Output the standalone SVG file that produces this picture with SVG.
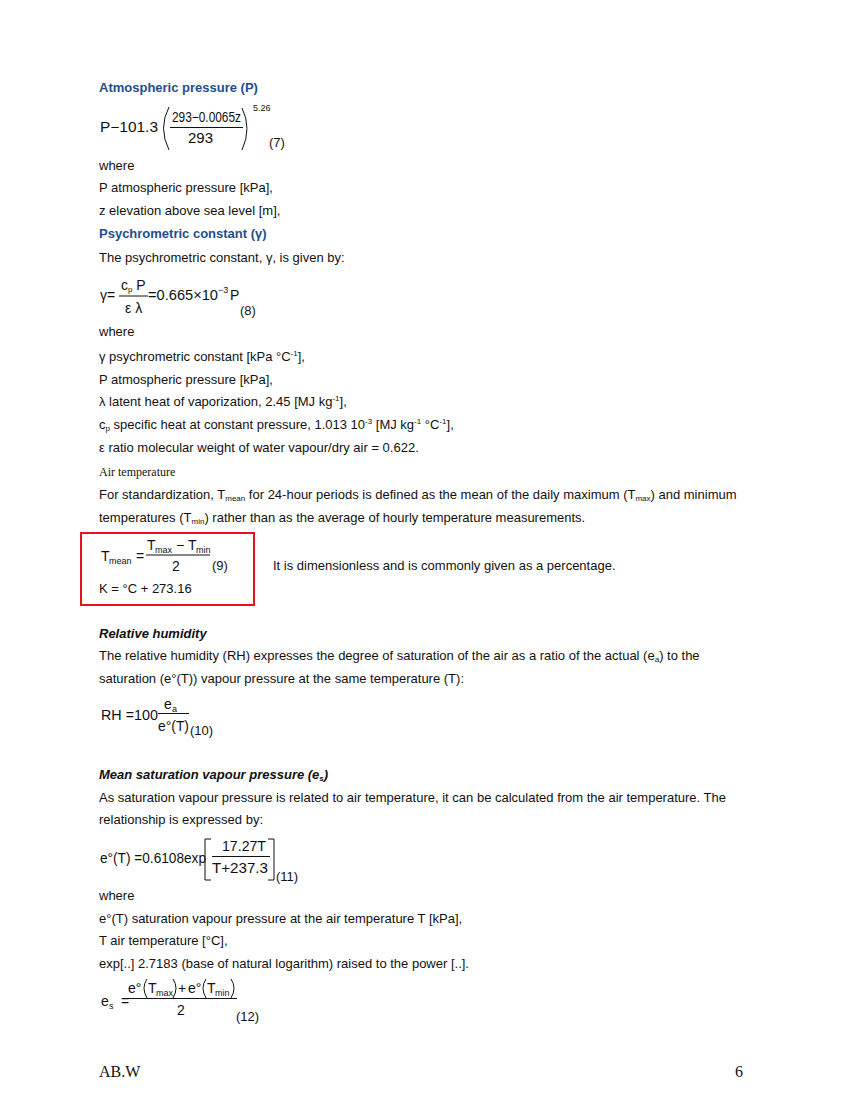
<svg xmlns="http://www.w3.org/2000/svg" width="850" height="1100" viewBox="0 0 850 1100">
<style>
.t{font-family:"Liberation Sans",Arial,sans-serif;font-size:13px;fill:#111}
.h{font-family:"Liberation Sans",Arial,sans-serif;font-size:13px;font-weight:bold;fill:#1f4e8c}
.hi{font-family:"Liberation Sans",Arial,sans-serif;font-size:13px;font-weight:bold;font-style:italic;fill:#111}
.s{font-size:8px}
.f{font-family:"Liberation Sans",Arial,sans-serif;font-size:14px;fill:#111}
.fs{font-family:"Liberation Sans",Arial,sans-serif;font-size:9px;fill:#111}
.serif{font-family:"Liberation Serif","Times New Roman",serif;fill:#111}
.ln{stroke:#111;stroke-width:1;fill:none}
</style>
<rect width="850" height="1100" fill="#fff"/>

<g id="atmospheric-pressure">
<text class="h" x="99" y="92">Atmospheric pressure (P)</text>
<text class="f" x="100" y="132" textLength="58" lengthAdjust="spacingAndGlyphs">P−101.3</text>
<path class="ln" d="M169,107 Q158,128 169,150"/>
<text class="f" x="172" y="122" textLength="69" lengthAdjust="spacingAndGlyphs">293−0.0065z</text>
<line class="ln" x1="170" y1="127.5" x2="243" y2="127.5"/>
<text class="f" x="188" y="143" textLength="25" lengthAdjust="spacingAndGlyphs">293</text>
<path class="ln" d="M242,108 Q252,128 242,150"/>
<text class="fs" x="253" y="111">5.26</text>
<text class="t" x="269" y="147">(7)</text>
<text class="t" x="99" y="170">where</text>
<text class="t" x="99" y="192">P atmospheric pressure [kPa],</text>
<text class="t" x="99" y="215">z elevation above sea level [m],</text>
</g>

<g id="psychrometric-constant">
<text class="h" x="99" y="238">Psychrometric constant (γ)</text>
<text class="t" x="99" y="262">The psychrometric constant, γ, is given by:</text>
<text class="f" x="100" y="300">γ=</text>
<text class="f" x="121" y="290">c<tspan class="s" dy="2">p</tspan><tspan dy="-2"> P</tspan></text>
<line class="ln" x1="119" y1="296" x2="148" y2="296"/>
<text class="f" x="125" y="313">ε λ</text>
<text class="f" x="148" y="300" textLength="70" lengthAdjust="spacingAndGlyphs">=0.665×10</text>
<text class="fs" x="218" y="293">−3</text>
<text class="f" x="230" y="300">P</text>
<text class="t" x="240" y="315">(8)</text>
<text class="t" x="99" y="336">where</text>
<text class="t" x="99" y="361">γ psychrometric constant [kPa °C<tspan class="s" dy="-5">-1</tspan><tspan dy="5">],</tspan></text>
<text class="t" x="99" y="384">P atmospheric pressure [kPa],</text>
<text class="t" x="99" y="406">λ latent heat of vaporization, 2.45 [MJ kg<tspan class="s" dy="-5">-1</tspan><tspan dy="5">],</tspan></text>
<text class="t" x="99" y="429">c<tspan class="s" dy="2">p</tspan><tspan dy="-2"> specific heat at constant pressure, 1.013 10</tspan><tspan class="s" dy="-5">-3</tspan><tspan dy="5"> [MJ kg</tspan><tspan class="s" dy="-5">-1</tspan><tspan dy="5"> °C</tspan><tspan class="s" dy="-5">-1</tspan><tspan dy="5">],</tspan></text>
<text class="t" x="99" y="452">ε ratio molecular weight of water vapour/dry air = 0.622.</text>
</g>

<g id="air-temperature">
<text class="serif" x="99" y="476" font-size="12">Air temperature</text>
<text class="t" x="99" y="499">For standardization, T<tspan class="s" dy="2">mean</tspan><tspan dy="-2"> for 24-hour periods is defined as the mean of the daily maximum (T</tspan><tspan class="s" dy="2">max</tspan><tspan dy="-2">) and minimum</tspan></text>
<text class="t" x="99" y="522">temperatures (T<tspan class="s" dy="2">min</tspan><tspan dy="-2">) rather than as the average of hourly temperature measurements.</tspan></text>
</g>

<g id="mean-temperature-box">
<rect x="81" y="533" width="173" height="72" fill="none" stroke="#e8141b" stroke-width="2"/>
<text class="f" x="101" y="561">T</text>
<text class="fs" x="109" y="564">mean</text>
<text class="f" x="136" y="561">=</text>
<text class="f" x="147" y="550">T</text>
<text class="fs" x="155" y="553">max</text>
<text class="f" x="176" y="550">−</text>
<text class="f" x="188" y="550">T</text>
<text class="fs" x="196" y="553">min</text>
<line class="ln" x1="146" y1="555" x2="210" y2="555"/>
<text class="f" x="172" y="571">2</text>
<text class="t" x="212" y="570">(9)</text>
<text class="t" x="99" y="593">K = °C + 273.16</text>
</g>
<text class="t" x="273" y="570">It is dimensionless and is commonly given as a percentage.</text>

<g id="relative-humidity">
<text class="hi" x="99" y="638">Relative humidity</text>
<text class="t" x="99" y="660">The relative humidity (RH) expresses the degree of saturation of the air as a ratio of the actual (e<tspan class="s" dy="2">a</tspan><tspan dy="-2">) to the</tspan></text>
<text class="t" x="99" y="683">saturation (e°(T)) vapour pressure at the same temperature (T):</text>
<text class="f" x="101" y="720" textLength="57" lengthAdjust="spacingAndGlyphs">RH =100</text>
<text class="f" x="164" y="709">e</text>
<text class="fs" x="172" y="712">a</text>
<line class="ln" x1="158" y1="713.5" x2="189" y2="713.5"/>
<text class="f" x="158" y="731" textLength="31" lengthAdjust="spacingAndGlyphs">e°(T)</text>
<text class="t" x="190" y="735">(10)</text>
</g>

<g id="mean-saturation-vapour-pressure">
<text class="hi" x="99" y="779">Mean saturation vapour pressure (e<tspan class="s" dy="2">s</tspan><tspan dy="-2">)</tspan></text>
<text class="t" x="99" y="802">As saturation vapour pressure is related to air temperature, it can be calculated from the air temperature. The</text>
<text class="t" x="99" y="824">relationship is expressed by:</text>
<text class="f" x="100" y="863" textLength="106" lengthAdjust="spacingAndGlyphs">e°(T) =0.6108exp</text>
<path class="ln" d="M211,839 H205 V880 H211"/>
<text class="f" x="222" y="851" textLength="44" lengthAdjust="spacingAndGlyphs">17.27T</text>
<line class="ln" x1="212" y1="856.5" x2="270" y2="856.5"/>
<text class="f" x="212" y="873" textLength="56" lengthAdjust="spacingAndGlyphs">T+237.3</text>
<path class="ln" d="M268,839 H274 V880 H268"/>
<text class="t" x="276" y="881">(11)</text>
<text class="t" x="99" y="900">where</text>
<text class="t" x="99" y="923">e°(T) saturation vapour pressure at the air temperature T [kPa],</text>
<text class="t" x="99" y="945">T air temperature [°C],</text>
<text class="t" x="99" y="968">exp[..] 2.7183 (base of natural logarithm) raised to the power [..].</text>
<text class="f" x="101" y="1006">e</text>
<text class="fs" x="109" y="1009">s</text>
<text class="f" x="121" y="1006">=</text>
<text class="f" x="128" y="993">e°</text>
<path class="ln" d="M147,979 Q141,988 147,998"/>
<text class="f" x="148" y="993">T</text>
<text class="fs" x="156" y="996">max</text>
<path class="ln" d="M173,979 Q179,988 173,998"/>
<text class="f" x="178" y="993">+</text>
<text class="f" x="188" y="993">e°</text>
<path class="ln" d="M206,979 Q200,988 206,998"/>
<text class="f" x="207" y="993">T</text>
<text class="fs" x="215" y="996">min</text>
<path class="ln" d="M231,979 Q237,988 231,998"/>
<line class="ln" x1="127" y1="998.5" x2="237" y2="998.5"/>
<text class="f" x="177" y="1015">2</text>
<text class="t" x="236" y="1021">(12)</text>
</g>

<g id="footer">
<text class="serif" x="99" y="1077" font-size="16">AB.W</text>
<text class="serif" x="735" y="1077" font-size="16">6</text>
</g>
</svg>
